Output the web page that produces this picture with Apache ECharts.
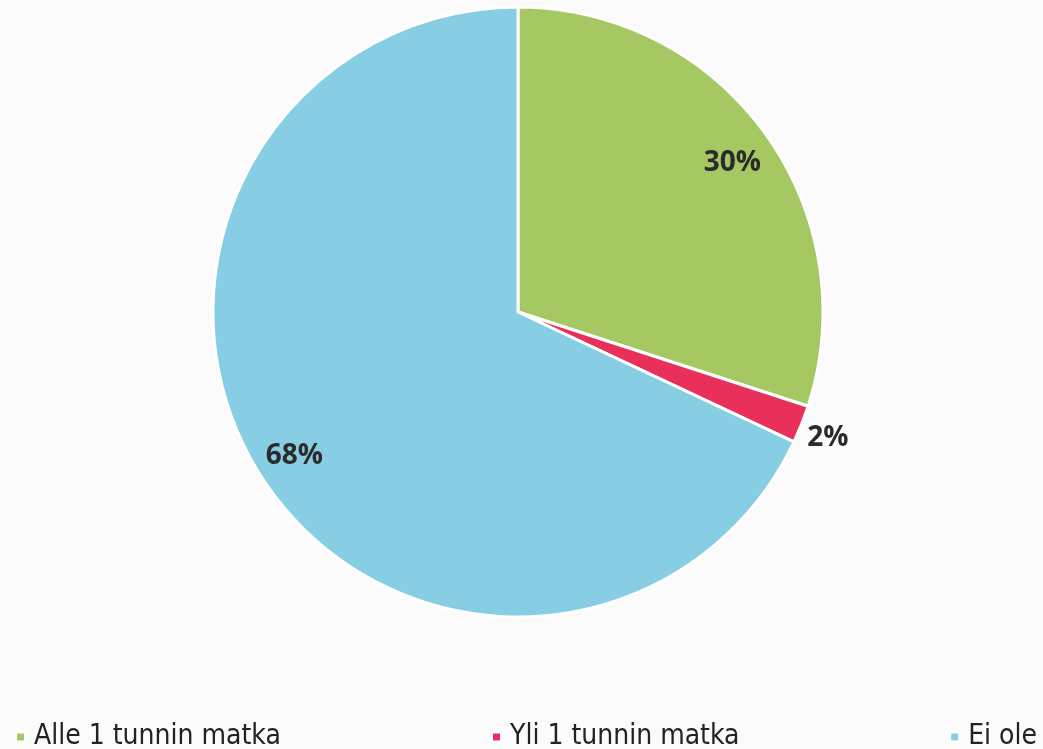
<!DOCTYPE html>
<html><head><meta charset="utf-8">
<script src="https://cdn.jsdelivr.net/npm/echarts@6/dist/echarts.min.js"></script>
<style>html,body{margin:0;padding:0;background:#fbfbfb}#c{width:1043px;height:749px}</style>
</head><body><div id="c"></div>
<script>
const categories = ['Alle 1 tunnin matka', 'Yli 1 tunnin matka', 'Ei ole'];
const values = [30, 2, 68];
const colors = ['#A5C862', '#E8305A', '#87CEE4'];
const outsideLabel = [false, true, false];

const chart = echarts.init(document.getElementById('c'));
const legendFont = "'Liberation Sans Narrow','DejaVu Sans Condensed',sans-serif";
const labelStyle = { fontFamily: "'Open Sans',sans-serif", fontWeight: 'bold', fontSize: 28, color: '#2b2b2b' };
const legendPos = [{ left: 10 }, { left: 486 }, { right: 1 }];
const legends = categories.map((c, i) => Object.assign({
  data: [c], top: 718, itemWidth: 9, itemHeight: 9, icon: 'rect',
  textStyle: { fontFamily: legendFont, fontSize: 28, color: '#222', padding: [0, 0, 0, 4] },
  selectedMode: false
}, legendPos[i]));
const insideLabelShift = [14, 0, 4];
chart.setOption({
  backgroundColor: '#fbfbfb',
  color: colors,
  legend: legends,
  series: [{
    type: 'pie',
    center: [518, 312],
    radius: [0, 305],
    startAngle: 90,
    clockwise: true,
    animation: false,
    itemStyle: { borderColor: '#fff', borderWidth: 3 },
    label: { show: false },
    labelLine: { show: false },
    data: categories.map((c, i) => {
      const d = { name: c, value: values[i] };
      if (outsideLabel[i]) {
        d.label = Object.assign({ show: true, position: 'outside', formatter: '\n{d}%', lineHeight: 24, distanceToLabelLine: 0 }, labelStyle);
        d.labelLine = { show: false, length: 6, length2: 0 };
      }
      return d;
    })
  }, {
    type: 'pie',
    center: [518, 312],
    radius: [219, 305],
    startAngle: 90,
    clockwise: true,
    animation: false,
    silent: true,
    itemStyle: { color: 'rgba(0,0,0,0)', borderWidth: 0 },
    label: Object.assign({ show: true, position: 'inside' }, labelStyle),
    labelLine: { show: false },
    data: categories.map((c, i) => ({
      name: c + ' ', value: values[i],
      label: { show: !outsideLabel[i], formatter: '\n{d}%', lineHeight: insideLabelShift[i] || 1 }
    }))
  }]
});
</script></body></html>
